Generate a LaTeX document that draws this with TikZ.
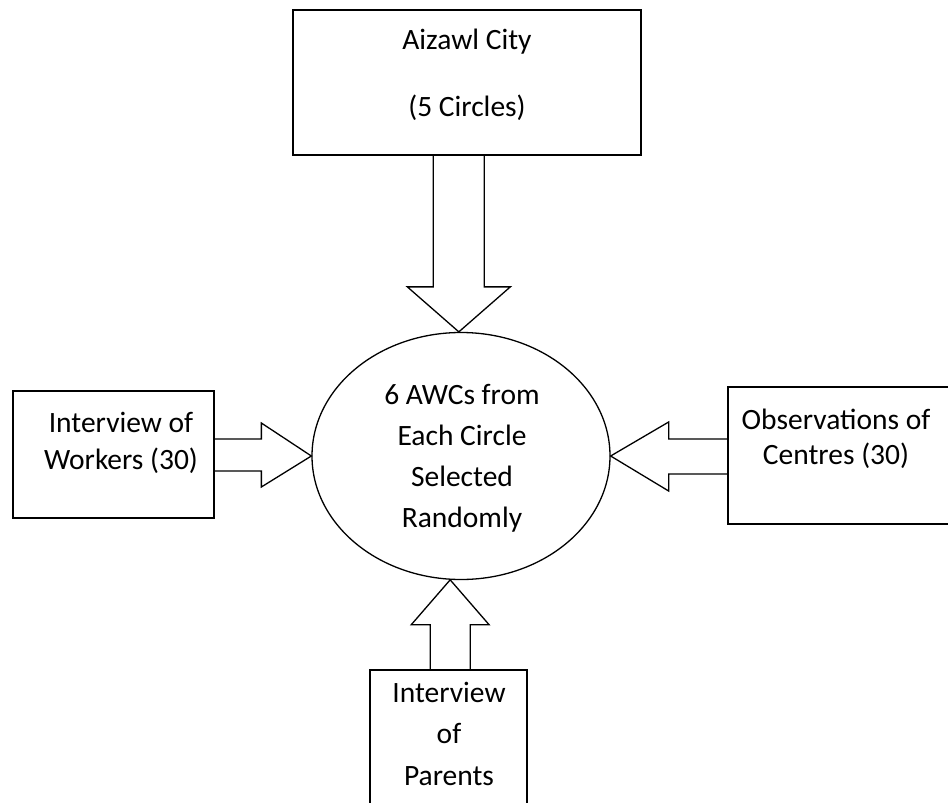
\documentclass[tikz,border=0pt]{standalone}
\usepackage{fontspec}
\setmainfont{Carlito}
\usetikzlibrary{shapes.geometric,calc}
\begin{document}
\begin{tikzpicture}[x=1pt,y=-1pt,
    box/.style={draw,line width=2pt,inner sep=0pt},
    blockarrow/.style={draw,line width=1.3pt,line join=miter},
    lbl/.style={align=center,anchor=base,inner sep=0pt}]
  \useasboundingbox (0,0) rectangle (948,803);
  % boxes and the centre ellipse
  \node [box,minimum width=348pt,minimum height=145pt] (city) at (467,82.5) {};
  \node [draw,ellipse,line width=1.3pt,minimum width=298pt,minimum height=247pt,inner sep=0pt] (hub) at (461,456) {};
  \node [box,minimum width=201pt,minimum height=127pt] (workers) at (113.5,454.5) {};
  \node [box,minimum width=273pt,minimum height=137pt,anchor=west] (centres) at (727,455.5) {};
  \node [box,minimum width=157pt,minimum height=180pt,anchor=north] (parents) at (448.5,669) {};
  % texts (base = last line)
  \node [lbl,font=\fontsize{29.5}{67}\selectfont] (citytext) at (467,116) {Aizawl City\\(5 Circles)};
  \node [lbl,font=\fontsize{29.5}{40.7}\selectfont] (hubtext) at (462,527) {6 AWCs from\\Each Circle\\Selected\\Randomly};
  \node [lbl,font=\fontsize{29.5}{37}\selectfont] (workerstext) at (121,469) {Interview of\\Workers (30)};
  \node [lbl,font=\fontsize{29.5}{35}\selectfont] (centrestext) at (836,464) {Observations of\\Centres (30)};
  \node [lbl,font=\fontsize{29.5}{41.5}\selectfont] (parentstext) at (449,785) {Interview\\of\\Parents};
  % block arrows
  \draw [blockarrow] ($(hub.91 |- city.south)+(-25.5,0)$) -- ($(hub.91)+(-25.5,-45)$) -- ($(hub.91)+(-51.5,-45)$) -- (hub.91)
      -- ($(hub.91)+(51.5,-45)$) -- ($(hub.91)+(25.5,-45)$) -- ($(hub.91 |- city.south)+(25.5,0)$);
  \draw [blockarrow] ($(workers.east |- hub.west)+(0,-17)$) -- ($(hub.west)+(-50,-17)$) -- ($(hub.west)+(-50,-33)$) -- (hub.west)
      -- ($(hub.west)+(-50,31)$) -- ($(hub.west)+(-50,15)$) -- ($(workers.east |- hub.west)+(0,15)$);
  \draw [blockarrow] ($(centres.west |- hub.east)+(0,-17)$) -- ($(hub.east)+(58,-17)$) -- ($(hub.east)+(58,-34)$) -- (hub.east)
      -- ($(hub.east)+(58,35)$) -- ($(hub.east)+(58,18)$) -- ($(centres.west |- hub.east)+(0,18)$);
  \draw [blockarrow] ($(hub.-95 |- parents.north)+(-20,0)$) -- ($(hub.-95)+(-20,45)$) -- ($(hub.-95)+(-39,45)$) -- (hub.-95)
      -- ($(hub.-95)+(39,45)$) -- ($(hub.-95)+(20,45)$) -- ($(hub.-95 |- parents.north)+(20,0)$);
\end{tikzpicture}
\end{document}
